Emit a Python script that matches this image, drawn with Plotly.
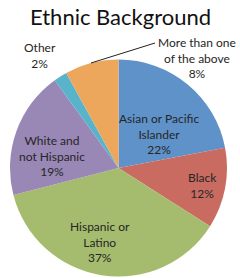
import plotly.graph_objects as go

categories = ["Asian or Pacific Islander", "Black", "Hispanic or Latino",
              "White and not Hispanic", "Other", "More than one of the above"]
values = [22, 12, 37, 19, 2, 8]
label_lines = [["Asian or Pacific", "Islander"], ["Black"], ["Hispanic or", "Latino"],
               ["White and", "not Hispanic"], ["Other"], ["More than one", "of the above"]]
colors = ["#5F92C9", "#C96B61", "#A5BC6F", "#9987B6", "#59B4CB", "#EDA75C"]

W, H = 240, 278
FONT = "Lato"

def px(x, y):
    return x / W, 1 - y / H

# pie geometry in pixels (center and radius)
cx, cy, R = 118.5, 168.0, 108.5
x0, y0 = px(cx - R, cy + R)
x1, y1 = px(cx + R, cy - R)

fig = go.Figure(go.Pie(
    labels=categories, values=values, sort=False, direction="clockwise",
    rotation=0, marker=dict(colors=colors, line=dict(width=0)),
    textinfo="none", hoverinfo="label+percent", showlegend=False,
    domain=dict(x=[x0, x1], y=[y0, y1]),
))

# label block centres (pixels)
label_pos = [(159, 134), (202, 185.5), (100, 242), (52, 155.5), (40, 56), (197, 57.5)]
total = sum(values)
annotations = []
for lines, v, (lx, ly) in zip(label_lines, values, label_pos):
    pct = f"{round(100 * v / total)}%"
    text = "<br>".join(lines + [pct])
    ax, ay = px(lx, ly)
    annotations.append(dict(x=ax, y=ay, xref="paper", yref="paper", text=text,
                            showarrow=False, xanchor="center", yanchor="middle",
                            font=dict(family=FONT, size=12, color="#262626")))

annotations.append(dict(x=0.5, y=px(0, 17)[1], xref="paper", yref="paper",
                        text="Ethnic Background", showarrow=False,
                        xanchor="center", yanchor="middle",
                        font=dict(family=FONT, size=22, color="#111111")))

lx0, ly0 = px(91, 63)
lx1, ly1 = px(155, 43)
shapes = [dict(type="line", xref="paper", yref="paper", x0=lx0, y0=ly0, x1=lx1, y1=ly1,
               line=dict(color="#222222", width=1))]

fig.update_layout(width=W, height=H, margin=dict(l=0, r=0, t=0, b=0),
                  paper_bgcolor="white", plot_bgcolor="white",
                  annotations=annotations, shapes=shapes)
fig.write_html("out.html", config={"displayModeBar": False},
               post_script="document.body.style.margin='0';document.body.style.overflow='hidden';")
